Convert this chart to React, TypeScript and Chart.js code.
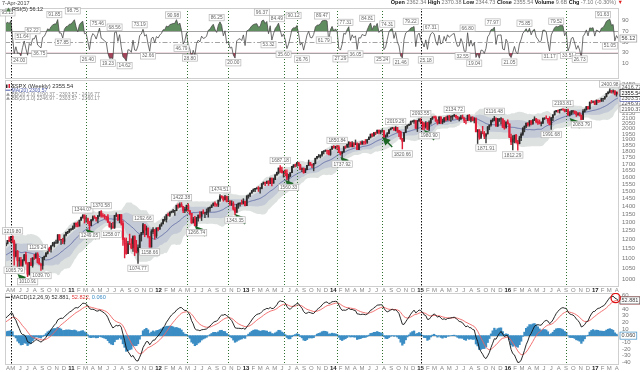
import React, { useEffect, useRef } from "react";
import { Chart, registerables } from "chart.js";

Chart.register(...registerables);

// ---------------- DATA ----------------
const FIRST_WEEK_UTC = Date.UTC(2010, 3, 2); // first visible weekly bar (Fri)

// weekly closes before the visible window (Aug-2009 .. Mar-2010), for indicator warm-up
const WARMUP_CLOSE = [1010.5, 1004.1, 1026.1, 1028.9, 1016.4, 1042.7, 1068.3, 1044.4, 1025.2, 1071.5, 1087.7, 1079.6, 1036.2, 1069.3, 1093.5, 1091.4, 1091.5, 1106.0, 1106.4, 1102.5, 1126.5, 1115.1, 1145.0, 1136.0, 1091.8, 1073.9, 1066.2, 1075.5, 1109.2, 1104.5, 1138.7, 1150.0, 1159.9, 1166.6];

const CLOSE = [
  // 2010
  1178.1, 1194.4, 1192.1, 1217.3, 1186.7, 1110.9, 1135.7, 1087.7, 1089.4, 1064.9, 1091.6, 1117.5, 1076.8, 1022.6, 1078.0, 1064.9, 1102.7, 1101.6, 1121.6, 1079.3, 1071.7, 1064.6, 1104.5, 1109.6, 1125.6, 1148.7, 1146.2, 1165.2, 1176.2, 1183.1, 1183.3, 1225.9, 1199.2, 1199.7, 1189.4, 1224.7, 1240.4, 1243.9, 1256.8, 1257.6,
  // 2011
  1271.5, 1293.2, 1283.4, 1276.3, 1310.9, 1329.2, 1343.0, 1319.9, 1321.2, 1304.3, 1279.2, 1313.8, 1332.4, 1328.2, 1319.7, 1337.4, 1363.6, 1340.2, 1337.8, 1333.3, 1331.1, 1300.2, 1271.0, 1271.5, 1268.5, 1339.7, 1344.0, 1316.1, 1345.0, 1292.3, 1199.4, 1178.8, 1123.5, 1176.8, 1174.0, 1154.2, 1216.0, 1136.4, 1131.4, 1155.5, 1224.6, 1238.3, 1285.1, 1253.2, 1263.9, 1216.0, 1158.7, 1244.3, 1255.2, 1219.7, 1265.3, 1257.6,
  // 2012
  1277.8, 1289.1, 1315.4, 1316.3, 1344.9, 1342.6, 1361.2, 1365.7, 1369.6, 1370.9, 1404.2, 1397.1, 1408.5, 1398.1, 1370.3, 1378.5, 1403.4, 1369.1, 1353.4, 1295.2, 1317.8, 1278.0, 1325.7, 1342.8, 1335.0, 1362.2, 1354.7, 1356.8, 1362.7, 1386.0, 1391.0, 1405.9, 1418.2, 1411.1, 1406.6, 1437.9, 1465.8, 1460.2, 1440.7, 1460.9, 1428.6, 1433.2, 1411.9, 1414.2, 1379.9, 1359.9, 1409.2, 1416.2, 1418.1, 1413.6, 1430.2, 1402.4,
  // 2013
  1466.5, 1472.1, 1486.0, 1503.0, 1513.2, 1517.9, 1519.8, 1515.6, 1518.2, 1551.2, 1560.7, 1556.9, 1569.2, 1553.3, 1588.9, 1555.3, 1582.2, 1614.4, 1633.7, 1667.5, 1649.6, 1630.7, 1643.4, 1626.7, 1592.4, 1606.3, 1631.9, 1680.2, 1692.1, 1691.7, 1709.7, 1691.4, 1655.8, 1663.5, 1633.0, 1655.2, 1688.0, 1709.9, 1691.8, 1690.5, 1703.2, 1744.5, 1759.8, 1761.6, 1770.6, 1798.2, 1804.8, 1805.8, 1805.1, 1775.3, 1818.3, 1841.4,
  // 2014
  1831.4, 1842.4, 1838.7, 1790.3, 1782.6, 1797.0, 1838.6, 1836.3, 1859.5, 1878.0, 1841.1, 1866.5, 1857.6, 1865.1, 1815.7, 1864.9, 1863.4, 1881.1, 1878.5, 1877.9, 1900.5, 1923.6, 1949.4, 1936.2, 1962.9, 1961.0, 1985.4, 1967.6, 1978.2, 1978.3, 1925.2, 1931.6, 1955.1, 1988.4, 2003.4, 2007.7, 1985.5, 2010.4, 1982.9, 1967.9, 1906.1, 1886.8, 1964.6, 2018.1, 2031.9, 2039.8, 2063.5, 2067.6, 2075.4, 2002.3, 2070.7, 2088.8,
  // 2015
  2058.2, 2044.8, 2019.4, 2051.8, 1995.0, 2055.5, 2097.0, 2110.3, 2104.5, 2071.3, 2053.4, 2108.1, 2061.0, 2067.0, 2102.1, 2081.2, 2117.7, 2108.3, 2116.1, 2122.7, 2126.1, 2107.4, 2092.8, 2094.1, 2110.0, 2101.5, 2076.8, 2076.6, 2126.6, 2079.7, 2103.8, 2077.6, 2091.5, 1970.9, 1988.9, 1921.2, 1961.1, 1958.0, 1931.3, 1951.4, 2014.9, 2033.1, 2075.2, 2079.4, 2099.2, 2023.0, 2089.2, 2090.1, 2091.7, 2012.4, 2005.6, 2061.0, 2043.9,
  // 2016
  1922.0, 1880.3, 1906.9, 1940.2, 1880.1, 1864.8, 1917.8, 1948.1, 2000.0, 2022.2, 2049.6, 2035.9, 2072.8, 2047.6, 2080.7, 2091.6, 2065.3, 2057.1, 2046.6, 2052.3, 2099.1, 2099.1, 2096.1, 2071.2, 2037.4, 2103.0, 2129.9, 2161.7, 2175.0, 2173.6, 2182.9, 2184.1, 2183.9, 2169.0, 2180.0, 2127.8, 2139.2, 2164.7, 2168.3, 2153.7, 2133.0, 2141.2, 2126.4, 2085.2, 2164.5, 2181.9, 2213.4, 2191.9, 2259.5, 2258.1, 2263.8, 2238.8,
  // 2017
  2277.0, 2274.6, 2271.3, 2294.7, 2297.4, 2316.1, 2351.2, 2367.3, 2383.1, 2372.6, 2378.3, 2344.0, 2362.7, 2355.5,
];

const HIGH = [
  1181, 1195, 1214, 1218, 1220, 1197, 1174, 1141, 1104, 1105, 1093, 1120, 1131, 1078, 1080, 1100, 1103, 1120, 1128, 1129, 1100, 1074, 1105, 1112, 1131, 1149, 1158, 1167, 1184, 1187, 1197, 1227, 1227, 1200, 1207, 1226, 1241, 1246, 1259, 1263,
  1278, 1294, 1296, 1302, 1312, 1331, 1344, 1337, 1333, 1324, 1302, 1315, 1338, 1339, 1328, 1341, 1364, 1371, 1352, 1346, 1334, 1346, 1301, 1292, 1299, 1341, 1356, 1344, 1347, 1346, 1307, 1209, 1208, 1190, 1230, 1204, 1220, 1221, 1195, 1171, 1225, 1240, 1293, 1285, 1277, 1266, 1208, 1255, 1267, 1256, 1266, 1269,
  1285, 1296, 1316, 1333, 1345, 1355, 1362, 1368, 1379, 1372, 1406, 1414, 1420, 1422, 1398, 1391, 1406, 1416, 1372, 1353, 1328, 1335, 1329, 1343, 1364, 1363, 1375, 1360, 1381, 1390, 1395, 1407, 1420, 1427, 1414, 1438, 1475, 1467, 1460, 1471, 1465, 1464, 1434, 1434, 1428, 1391, 1410, 1420, 1420, 1439, 1448, 1432,
  1467, 1473, 1486, 1503, 1514, 1518, 1524, 1531, 1526, 1552, 1564, 1563, 1570, 1573, 1594, 1594, 1592, 1618, 1636, 1668, 1687, 1674, 1644, 1654, 1654, 1620, 1632, 1681, 1693, 1698, 1710, 1709, 1697, 1670, 1669, 1664, 1689, 1730, 1711, 1698, 1704, 1745, 1760, 1775, 1771, 1799, 1805, 1813, 1811, 1809, 1819, 1843,
  1850, 1844, 1851, 1850, 1799, 1798, 1841, 1847, 1867, 1883, 1879, 1884, 1876, 1898, 1872, 1865, 1884, 1891, 1885, 1902, 1901, 1924, 1950, 1955, 1964, 1968, 1986, 1980, 1983, 1991, 1984, 1943, 1964, 1992, 2006, 2012, 2008, 2019, 2009, 1985, 1977, 1912, 1965, 2019, 2034, 2042, 2071, 2075, 2079, 2076, 2077, 2093,
  2094, 2065, 2057, 2065, 2058, 2072, 2097, 2111, 2119, 2118, 2083, 2114, 2115, 2089, 2103, 2111, 2121, 2126, 2120, 2124, 2135, 2128, 2117, 2109, 2127, 2129, 2100, 2082, 2128, 2133, 2111, 2113, 2103, 2102, 1990, 1990, 1976, 2021, 1974, 1952, 2020, 2034, 2080, 2094, 2116, 2094, 2097, 2095, 2104, 2093, 2076, 2064, 2082,
  2039, 1950, 1936, 1940, 1947, 1895, 1931, 1962, 2009, 2024, 2053, 2056, 2075, 2075, 2084, 2112, 2096, 2084, 2081, 2064, 2100, 2103, 2120, 2097, 2113, 2103, 2132, 2169, 2176, 2177, 2183, 2188, 2194, 2187, 2185, 2187, 2163, 2175, 2175, 2169, 2164, 2152, 2154, 2131, 2182, 2189, 2214, 2214, 2260, 2278, 2274, 2273,
  2283, 2280, 2279, 2301, 2300, 2319, 2352, 2368, 2401, 2385, 2390, 2382, 2370, 2370,
];

const LOW = [
  1165, 1175, 1188, 1181, 1181, 1066, 1107, 1056, 1040, 1060, 1043, 1087, 1071, 1011, 1018, 1063, 1056, 1094, 1100, 1076, 1070, 1040, 1046, 1092, 1108, 1122, 1136, 1132, 1164, 1159, 1177, 1178, 1195, 1173, 1177, 1175, 1219, 1232, 1239, 1251,
  1257, 1262, 1271, 1271, 1276, 1311, 1324, 1294, 1299, 1291, 1249, 1280, 1307, 1322, 1306, 1295, 1334, 1330, 1330, 1319, 1312, 1296, 1270, 1258, 1262, 1262, 1333, 1309, 1295, 1282, 1168, 1102, 1121, 1125, 1172, 1149, 1136, 1114, 1127, 1075, 1157, 1191, 1230, 1215, 1226, 1209, 1158, 1159, 1232, 1202, 1210, 1248,
  1258, 1275, 1290, 1306, 1300, 1337, 1335, 1356, 1357, 1340, 1369, 1386, 1391, 1393, 1357, 1358, 1367, 1367, 1343, 1292, 1295, 1277, 1267, 1306, 1324, 1309, 1350, 1326, 1345, 1330, 1365, 1389, 1400, 1398, 1398, 1396, 1430, 1451, 1431, 1438, 1426, 1428, 1403, 1403, 1373, 1343, 1359, 1385, 1399, 1411, 1416, 1401,
  1402, 1451, 1461, 1485, 1496, 1495, 1512, 1497, 1485, 1514, 1547, 1538, 1551, 1539, 1552, 1536, 1555, 1581, 1614, 1623, 1635, 1630, 1599, 1608, 1578, 1560, 1604, 1632, 1671, 1676, 1681, 1684, 1654, 1640, 1628, 1633, 1655, 1687, 1687, 1671, 1646, 1700, 1740, 1752, 1747, 1761, 1780, 1800, 1779, 1772, 1768, 1818,
  1828, 1822, 1815, 1790, 1770, 1738, 1791, 1825, 1834, 1834, 1839, 1839, 1839, 1857, 1815, 1814, 1859, 1860, 1859, 1862, 1868, 1901, 1915, 1925, 1930, 1944, 1956, 1952, 1952, 1967, 1916, 1904, 1929, 1953, 1988, 1998, 1985, 1978, 1965, 1926, 1906, 1821, 1885, 1962, 2002, 2027, 2034, 2062, 2049, 2002, 1973, 2069,
  2047, 1992, 1988, 2004, 1989, 1981, 2041, 2085, 2098, 2067, 2040, 2045, 2046, 2045, 2057, 2073, 2080, 2077, 2068, 2085, 2112, 2099, 2086, 2072, 2084, 2097, 2056, 2044, 2080, 2077, 2063, 2073, 2053, 1970, 1867, 1904, 1910, 1953, 1909, 1872, 1952, 1990, 2022, 2062, 2072, 2022, 2020, 2067, 2042, 2010, 1994, 2006, 2043,
  1918, 1857, 1812, 1872, 1872, 1810, 1865, 1891, 1937, 1970, 2008, 2023, 2022, 2034, 2039, 2074, 2053, 2039, 2043, 2025, 2047, 2085, 2094, 2051, 2033, 1992, 2075, 2129, 2159, 2156, 2148, 2177, 2175, 2160, 2162, 2127, 2119, 2133, 2145, 2142, 2115, 2124, 2119, 2084, 2098, 2157, 2178, 2187, 2187, 2248, 2253, 2234,
  2234, 2255, 2258, 2266, 2267, 2287, 2313, 2347, 2358, 2355, 2354, 2336, 2322, 2345,
];

// annotations on the price panel (bar index, value, 1 = label above)
const PRICE_NOTE_IDX = [4, 5, 13, 19, 21, 46, 50, 57, 63, 79, 82, 86, 105, 114, 128, 137, 164, 169, 198, 201, 233, 237, 248, 253, 268, 287, 292, 303, 326, 333, 344, 361];
const PRICE_NOTE_VAL = [1219.80, 1065.79, 1010.91, 1129.24, 1039.70, 1344.07, 1249.05, 1370.58, 1258.07, 1074.77, 1292.66, 1158.66, 1422.38, 1266.74, 1474.51, 1343.35, 1687.18, 1560.33, 1850.84, 1737.92, 2019.26, 1820.66, 2093.55, 1980.90, 2134.72, 1871.91, 2116.48, 1812.29, 1991.68, 2193.81, 2083.79, 2400.98];
const PRICE_NOTE_UP = [1, 0, 0, 1, 0, 1, 0, 1, 0, 0, 1, 0, 1, 0, 1, 0, 1, 0, 1, 0, 1, 0, 1, 0, 1, 0, 1, 0, 0, 1, 0, 1];

// green arrows (bar index, price of the arrow tip)
const ARROW_IDX = [7, 48, 113, 137, 167, 200, 225, 250, 337];
const ARROW_VAL = [1023, 1259, 1277, 1349, 1578, 1755, 1924, 1987, 2100];

// RSI annotations
const RSI_NOTE_IDX = [1, 8, 10, 16, 20, 29, 34, 40, 49, 55, 61, 65, 71, 80, 85, 100, 105, 110, 126, 136, 153, 157, 162, 166, 172, 177, 189, 190, 200, 203, 209, 216, 225, 228, 236, 242, 251, 254, 273, 276, 280, 291, 301, 310, 325, 329, 336, 343, 357, 361];
const RSI_NOTE_VAL = [95.13, 24.00, 51.64, 62.22, 36.75, 91.85, 57.85, 98.75, 26.40, 75.46, 19.23, 68.56, 14.62, 73.19, 32.66, 90.98, 46.79, 28.80, 86.25, 20.00, 96.37, 53.32, 84.49, 35.60, 90.12, 26.76, 89.47, 61.79, 27.29, 77.31, 36.05, 84.81, 25.24, 74.31, 21.46, 79.22, 25.18, 67.31, 32.55, 66.80, 19.04, 77.97, 21.05, 75.85, 31.17, 79.52, 33.51, 26.73, 91.63, 51.05];
const RSI_NOTE_UP = [1, 0, 1, 1, 0, 1, 0, 1, 0, 1, 0, 1, 0, 1, 0, 1, 0, 0, 1, 0, 1, 0, 1, 0, 1, 0, 1, 0, 0, 1, 0, 1, 0, 1, 0, 1, 0, 1, 0, 1, 0, 1, 0, 1, 0, 1, 0, 0, 1, 0];

// vertical dotted markers (bar index) and which are black
const VLINE_IDX = [3, 48, 108, 133, 166, 174, 198, 225, 248, 335];
const VLINE_BLACK = [3, 248];

// axis ticks
const RSI_TICKS = [90, 70, 50, 30, 10];
const RSI_LEVELS = [70, 50, 30];
const PRICE_TICKS = [2450, 2400, 2350, 2300, 2250, 2200, 2150, 2100, 2050, 2000, 1950, 1900, 1850, 1800, 1750, 1700, 1650, 1600, 1550, 1500, 1450, 1400, 1350, 1300, 1250, 1200, 1150, 1100, 1050, 1000];
const MACD_TICKS = [60, 50, 40, 30, 20, 10, -10, -20, -30, -40];
const MONTH_LETTERS = ["J", "F", "M", "A", "M", "J", "J", "A", "S", "O", "N", "D"];

// right-edge value boxes
const PRICE_BOX_VAL = [2416.77, 2246.97, 2190.37, 2360.17, 2303.57, 2355.54];
const PRICE_BOX_COLOR = ["#9a9a9a", "#9a9a9a", "#9a9a9a", "#9a9a9a", "#4a58a8", "#111111"];
const MACD_BOX_VAL = [52.822, 52.881, 0.060];
const MACD_BOX_COLOR = ["#e23b3b", "#555555", "#3b8dc4"];
const RSI_BOX_VAL = [56.12];

// legend / header texts
const HEADER_DATE = "7-Apr-2017";
const HEADER_PARTS: [string, number][] = [["Open ", 1], ["2362.34 ", 0], ["High ", 1], ["2370.38 ", 0], ["Low ", 1], ["2344.73 ", 0], ["Close ", 1], ["2355.54 ", 0], ["Volume ", 1], ["9.6B ", 0], ["Chg ", 1], ["-7.10 (-0.30%) ", 0]];
const RSI_LEGEND = "RSI(5) 56.12";
const PRICE_LEGEND = ["$SPX (Weekly) 2355.54", "MA(20) 2303.57", "BB(20,2.0) 2190.37 - 2303.57 - 2416.77", "BB(20,1.0) 2246.97 - 2303.57 - 2360.17"];
const MACD_LEGEND: [string, string][] = [["MACD(12,26,9) 52.881, ", "#333"], ["52.822, ", "#e23b3b"], ["0.060", "#3b8dc4"]];

// ---------------- DERIVED ----------------
const FONT = "'Liberation Sans', Arial, sans-serif";
const f = (size: number, bold = false) => `${bold ? "bold " : ""}${size}px ${FONT}`;

const N = CLOSE.length;
const LABELS = CLOSE.map((_, i) => String(i));
const W = WARMUP_CLOSE.length;
const ALL = [...WARMUP_CLOSE, ...CLOSE];
const OPEN = CLOSE.map((_, i) => ALL[W + i - 1]);
const HI = CLOSE.map((c, i) => Math.max(HIGH[i] ?? c, c, OPEN[i]));
const LO = CLOSE.map((c, i) => Math.min(LOW[i] ?? c, c, OPEN[i]));
const IS_UP = CLOSE.map((c, i) => c >= OPEN[i]);

const MA20: number[] = [], U2: number[] = [], L2: number[] = [], U1: number[] = [], L1: number[] = [];
for (let i = 0; i < N; i++) {
  const j = W + i;
  let s = 0;
  for (let k = j - 19; k <= j; k++) s += ALL[k];
  const m = s / 20;
  let v = 0;
  for (let k = j - 19; k <= j; k++) v += (ALL[k] - m) ** 2;
  const sd = Math.sqrt(v / 20);
  MA20.push(m); U2.push(m + 2 * sd); L2.push(m - 2 * sd); U1.push(m + sd); L1.push(m - sd);
}

function rsiCalc(arr: number[], n: number) {
  const out: (number | null)[] = arr.map(() => null);
  let ag = 0, al = 0;
  for (let i = 1; i <= n; i++) { const d = arr[i] - arr[i - 1]; if (d > 0) ag += d; else al -= d; }
  ag /= n; al /= n;
  out[n] = al === 0 ? 100 : 100 - 100 / (1 + ag / al);
  for (let i = n + 1; i < arr.length; i++) {
    const d = arr[i] - arr[i - 1];
    ag = (ag * (n - 1) + Math.max(d, 0)) / n;
    al = (al * (n - 1) + Math.max(-d, 0)) / n;
    out[i] = al === 0 ? 100 : 100 - 100 / (1 + ag / al);
  }
  return out;
}
function emaCalc(arr: number[], n: number) {
  const k = 2 / (n + 1);
  const out: number[] = [];
  let e = arr[0];
  arr.forEach((x, i) => { e = i === 0 ? x : x * k + e * (1 - k); out.push(e); });
  return out;
}
const RSI = rsiCalc(ALL, 5).slice(W);
const E12 = emaCalc(ALL, 12), E26 = emaCalc(ALL, 26);
const MACD_ALL = E12.map((v, i) => v - E26[i]);
const SIG_ALL = emaCalc(MACD_ALL, 9);
const MACD = MACD_ALL.slice(W);
const SIGNAL = SIG_ALL.slice(W);
const HIST = MACD.map((v, i) => v - SIGNAL[i]);

// month label positions
const MONTH_MARKS: { pos: number; text: string; bold: boolean }[] = [];
{
  let prev = -1;
  for (let i = 0; i < N; i++) {
    const d = new Date(FIRST_WEEK_UTC + i * 7 * 86400000);
    const m = d.getUTCMonth();
    if (m !== prev) {
      const pos = i - (d.getUTCDate() - 1) / 7;
      const isJan = m === 0;
      MONTH_MARKS.push({ pos, text: isJan ? String(d.getUTCFullYear() % 100).padStart(2, "0") : MONTH_LETTERS[m], bold: isJan });
      prev = m;
    }
  }
}

// ---------------- DRAW HELPERS ----------------
function drawBox(ctx: any, text: string, cx: number, cy: number, border: string, color: string, size: number, leftAlign = false) {
  ctx.font = f(size);
  const tw = ctx.measureText(text).width;
  const w = tw + 3, h = size + 1.6;
  const x = leftAlign ? cx : cx - w / 2;
  ctx.fillStyle = "#fff";
  ctx.fillRect(x, cy - h / 2, w, h);
  ctx.strokeStyle = border;
  ctx.lineWidth = 0.7;
  ctx.strokeRect(x, cy - h / 2, w, h);
  ctx.fillStyle = color;
  ctx.textAlign = "left";
  ctx.textBaseline = "middle";
  ctx.fillText(text, x + 1.5, cy + 0.3);
}
function drawFrame(chart: any) {
  const { ctx, chartArea: ca } = chart;
  ctx.save();
  ctx.strokeStyle = "#cfcfcf";
  ctx.lineWidth = 1;
  ctx.setLineDash([]);
  ctx.strokeRect(Math.round(ca.left) + 0.5, Math.round(ca.top) + 0.5, Math.round(ca.right - ca.left) - 1, Math.round(ca.bottom - ca.top) - 1);
  ctx.restore();
}
function drawVLines(chart: any) {
  const { ctx, chartArea: ca, scales } = chart;
  ctx.save();
  ctx.lineWidth = 1;
  VLINE_IDX.forEach((idx) => {
    const px = Math.round(scales.x.getPixelForValue(idx)) + 0.5;
    const black = VLINE_BLACK.includes(idx);
    ctx.strokeStyle = black ? "#111" : "#2f6f2f";
    ctx.setLineDash(black ? [1.5, 1.5] : [1, 2]);
    ctx.beginPath();
    ctx.moveTo(px, ca.top);
    ctx.lineTo(px, ca.bottom);
    ctx.stroke();
  });
  ctx.restore();
}
function drawRightTicks(chart: any, ticks: number[]) {
  const { ctx, chartArea: ca, scales } = chart;
  ctx.save();
  ctx.font = f(6);
  ctx.fillStyle = "#777";
  ctx.textAlign = "left";
  ctx.textBaseline = "middle";
  ticks.forEach((v) => ctx.fillText(String(v), ca.right + 3, scales.y.getPixelForValue(v)));
  ctx.restore();
}
function drawMonths(chart: any) {
  const { ctx, chartArea: ca, scales } = chart;
  ctx.save();
  ctx.textAlign = "center";
  ctx.textBaseline = "middle";
  MONTH_MARKS.forEach((m) => {
    const px = scales.x.getPixelForValue(m.pos);
    if (px < ca.left) return;
    ctx.font = f(6, m.bold);
    ctx.fillStyle = m.bold ? "#222" : "#888";
    ctx.fillText(m.text, Math.max(px, ca.left + 3), ca.bottom + 3.8);
  });
  ctx.restore();
}
function drawNotes(chart: any, idxs: number[], vals: number[], ups: number[], off: number) {
  const { ctx, scales } = chart;
  ctx.save();
  idxs.forEach((idx, k) => {
    const px = scales.x.getPixelForValue(idx);
    const py = scales.y.getPixelForValue(vals[k]);
    drawBox(ctx, vals[k].toFixed(2), px, ups[k] ? py - off : py + off, "#b5b5b5", "#666", 4.8);
  });
  ctx.restore();
}

// ---------------- PLUGINS ----------------
const rsiPlugin = {
  id: "rsiOverlay",
  beforeDatasetsDraw(chart: any) {
    const { ctx, chartArea: ca, scales } = chart;
    ctx.save();
    ctx.strokeStyle = "#9a9a9a";
    ctx.lineWidth = 0.9;
    RSI_LEVELS.forEach((v) => {
      const py = Math.round(scales.y.getPixelForValue(v)) + 0.5;
      ctx.setLineDash(v === 50 ? [5, 2, 1.5, 2] : []);
      ctx.beginPath();
      ctx.moveTo(ca.left, py);
      ctx.lineTo(ca.right, py);
      ctx.stroke();
    });
    ctx.restore();
  },
  afterDatasetsDraw(chart: any) {
    const { ctx, chartArea: ca, scales } = chart;
    drawVLines(chart);
    drawFrame(chart);
    drawNotes(chart, RSI_NOTE_IDX, RSI_NOTE_VAL, RSI_NOTE_UP, 4.6);
    drawRightTicks(chart, RSI_TICKS);
    ctx.save();
    RSI_BOX_VAL.forEach((v) => drawBox(ctx, v.toFixed(2), ca.right + 1, scales.y.getPixelForValue(v), "#999", "#444", 5.5, true));
    // header
    ctx.font = f(5.5);
    ctx.fillStyle = "#444";
    ctx.textAlign = "left";
    ctx.textBaseline = "middle";
    ctx.fillText(HEADER_DATE, 2, 3.2);
    // legend icon + text
    ctx.fillStyle = "#4f7f4f";
    ctx.beginPath();
    ctx.moveTo(6, 11.5); ctx.lineTo(8.5, 7.5); ctx.lineTo(11, 11.5); ctx.closePath(); ctx.fill();
    ctx.fillStyle = "#333";
    ctx.font = f(5.5);
    ctx.fillText(RSI_LEGEND, 12, 9.6);
    // top-right header
    let total = 0;
    HEADER_PARTS.forEach(([t, b]) => { ctx.font = f(5.5, !!b); total += ctx.measureText(t).width; });
    ctx.font = f(5.5);
    total += ctx.measureText("▼").width;
    let x = 623 - total;
    HEADER_PARTS.forEach(([t, b]) => {
      ctx.font = f(5.5, !!b);
      ctx.fillStyle = b ? "#111" : "#777";
      ctx.fillText(t, x, 2.6);
      x += ctx.measureText(t).width;
    });
    ctx.font = f(5.5);
    ctx.fillStyle = "#e02020";
    ctx.fillText("▼", x, 2.6);
    ctx.restore();
  },
};

const pricePlugin = {
  id: "priceOverlay",
  afterDatasetsDraw(chart: any) {
    const { ctx, chartArea: ca, scales } = chart;
    drawVLines(chart);
    drawFrame(chart);
    // arrows (pointing up-left at the tip)
    ctx.save();
    ARROW_IDX.forEach((idx, k) => {
      const tx = scales.x.getPixelForValue(idx);
      const ty = scales.y.getPixelForValue(ARROW_VAL[k]);
      ctx.fillStyle = "#1a6624";
      ctx.beginPath();
      ctx.moveTo(tx, ty);
      ctx.lineTo(tx + 8.5, ty + 3);
      ctx.lineTo(tx + 3, ty + 8.5);
      ctx.closePath();
      ctx.fill();
      ctx.strokeStyle = "#1a6624";
      ctx.lineWidth = 1.4;
      ctx.beginPath();
      ctx.moveTo(tx + 4, ty + 4);
      ctx.lineTo(tx + 10, ty + 10);
      ctx.stroke();
    });
    ctx.restore();
    drawNotes(chart, PRICE_NOTE_IDX, PRICE_NOTE_VAL, PRICE_NOTE_UP, 5);
    drawRightTicks(chart, PRICE_TICKS);
    ctx.save();
    PRICE_BOX_VAL.forEach((v, k) => drawBox(ctx, v.toFixed(2), ca.right + 1, scales.y.getPixelForValue(v), PRICE_BOX_COLOR[k], k === 5 ? "#111" : "#555", 5.5, true));
    // legend
    ctx.textAlign = "left";
    ctx.textBaseline = "middle";
    ctx.fillStyle = "#222";
    ctx.fillRect(6, 4.5, 1.5, 3.5);
    ctx.fillStyle = "#e0203a";
    ctx.fillRect(8.5, 4, 1.5, 4);
    ctx.font = f(5.8);
    ctx.fillStyle = "#333";
    ctx.fillText(PRICE_LEGEND[0], 11.5, 6.3);
    ctx.strokeStyle = "#4a58a8";
    ctx.lineWidth = 1;
    ctx.beginPath(); ctx.moveTo(5.5, 10.2); ctx.lineTo(10.5, 10.2); ctx.stroke();
    ctx.font = f(5);
    ctx.fillStyle = "#4a58a8";
    ctx.fillText(PRICE_LEGEND[1], 11.5, 10.2);
    [2, 3].forEach((k, j) => {
      const yy = 14.2 + j * 4;
      ctx.fillStyle = "#999";
      ctx.beginPath(); ctx.moveTo(6, yy + 1.6); ctx.lineTo(8, yy - 1.6); ctx.lineTo(10, yy + 1.6); ctx.closePath(); ctx.fill();
      ctx.fillStyle = "#888";
      ctx.fillText(PRICE_LEGEND[k], 11.5, yy);
    });
    ctx.restore();
    drawMonths(chart);
  },
};

const macdPlugin = {
  id: "macdOverlay",
  beforeDatasetsDraw(chart: any) {
    const { ctx, chartArea: ca, scales } = chart;
    ctx.save();
    ctx.strokeStyle = "#d0d0d0";
    ctx.lineWidth = 0.8;
    const py = Math.round(scales.y.getPixelForValue(0)) + 0.5;
    ctx.beginPath(); ctx.moveTo(ca.left, py); ctx.lineTo(ca.right, py); ctx.stroke();
    ctx.restore();
  },
  afterDatasetsDraw(chart: any) {
    const { ctx, chartArea: ca, scales } = chart;
    drawVLines(chart);
    drawFrame(chart);
    drawRightTicks(chart, MACD_TICKS);
    ctx.save();
    MACD_BOX_VAL.forEach((v, k) => drawBox(ctx, v.toFixed(3), ca.right + 1, scales.y.getPixelForValue(v), MACD_BOX_COLOR[k], "#444", 5.5, true));
    // red circle marker at the latest crossover
    ctx.strokeStyle = "#e01010";
    ctx.lineWidth = 1.3;
    ctx.beginPath();
    ctx.arc(scales.x.getPixelForValue(N - 2.5), scales.y.getPixelForValue(MACD[N - 3]), 4.6, 0, Math.PI * 2);
    ctx.stroke();
    // legend
    ctx.textAlign = "left";
    ctx.textBaseline = "middle";
    ctx.strokeStyle = "#333";
    ctx.lineWidth = 1;
    ctx.beginPath(); ctx.moveTo(5.5, 4.3); ctx.lineTo(10, 4.3); ctx.stroke();
    ctx.font = f(5.6);
    let x = 11;
    MACD_LEGEND.forEach(([t, c]) => { ctx.fillStyle = c; ctx.fillText(t, x, 4.3); x += ctx.measureText(t).width; });
    ctx.restore();
    drawMonths(chart);
  },
};

// ---------------- CONFIGS ----------------
const baseOptions = (padBottom: number, padTop: number, y: any) => ({
  animation: false,
  responsive: false,
  maintainAspectRatio: false,
  events: [],
  layout: { padding: { left: 5, right: 21, top: padTop, bottom: padBottom }, autoPadding: false },
  plugins: { legend: { display: false }, tooltip: { enabled: false } },
  scales: { x: { type: "category", offset: true, display: false }, y: { ...y, display: false } },
});

function rsiConfig(): any {
  return {
    type: "line",
    data: {
      labels: LABELS,
      datasets: [
        { data: RSI, borderColor: "#4a4a4a", borderWidth: 0.8, pointRadius: 0, tension: 0, fill: { target: { value: 70 }, above: "#5f8d5f", below: "rgba(0,0,0,0)" } },
        { data: RSI, borderColor: "rgba(0,0,0,0)", borderWidth: 0, pointRadius: 0, tension: 0, fill: { target: { value: 30 }, above: "rgba(0,0,0,0)", below: "#a5455c" } },
      ],
    },
    options: baseOptions(1, 8, { type: "linear", min: -18.5, max: 112.4 }),
    plugins: [rsiPlugin],
  };
}

function priceConfig(): any {
  const wicks = CLOSE.map((_, i) => [LO[i], HI[i]]);
  const upBodies = CLOSE.map((c, i) => (IS_UP[i] ? [OPEN[i], c] : null));
  const downBodies = CLOSE.map((c, i) => (!IS_UP[i] ? [c, OPEN[i]] : null));
  const wickColors = CLOSE.map((_, i) => (IS_UP[i] ? "#3a3a3a" : "#e0203a"));
  const band = { type: "line", borderColor: "rgba(0,0,0,0)", borderWidth: 0, pointRadius: 0, tension: 0.2 };
  return {
    type: "bar",
    data: {
      labels: LABELS,
      datasets: [
        { ...band, data: U2, fill: 1, backgroundColor: "#dde2e0", order: 10 },
        { ...band, data: L2, fill: false, order: 10 },
        { ...band, data: U1, fill: 3, backgroundColor: "#c4cad6", order: 9 },
        { ...band, data: L1, fill: false, order: 9 },
        { type: "line", data: MA20, borderColor: "#5a67a3", borderWidth: 0.8, pointRadius: 0, fill: false, tension: 0.2, order: 8 },
        { type: "bar", data: wicks, backgroundColor: wickColors, barThickness: 0.8, grouped: false, order: 3 },
        { type: "bar", data: upBodies, backgroundColor: "#2a2a2a", barThickness: 1.1, grouped: false, order: 2 },
        { type: "bar", data: downBodies, backgroundColor: "#e0203a", barThickness: 1.5, grouped: false, order: 1 },
      ],
    },
    options: baseOptions(6, 0, { type: "logarithmic", min: 963.8, max: 2502 }),
    plugins: [pricePlugin],
  };
}

function macdConfig(): any {
  return {
    type: "bar",
    data: {
      labels: LABELS,
      datasets: [
        { type: "line", data: MACD, borderColor: "#111", borderWidth: 0.9, pointRadius: 0, fill: false, tension: 0, order: 1 },
        { type: "line", data: SIGNAL, borderColor: "#f06262", borderWidth: 0.9, pointRadius: 0, fill: false, tension: 0, order: 2 },
        { type: "bar", data: HIST, backgroundColor: "#3b8dc4", barPercentage: 1, categoryPercentage: 1, grouped: false, order: 3 },
      ],
    },
    options: baseOptions(7, 0, { type: "linear", min: -44, max: 64 }),
    plugins: [macdPlugin],
  };
}

// ---------------- COMPONENT ----------------
export default function App() {
  const r1 = useRef<HTMLCanvasElement>(null);
  const r2 = useRef<HTMLCanvasElement>(null);
  const r3 = useRef<HTMLCanvasElement>(null);
  useEffect(() => {
    const charts = [
      new Chart(r1.current as HTMLCanvasElement, rsiConfig()),
      new Chart(r2.current as HTMLCanvasElement, priceConfig()),
      new Chart(r3.current as HTMLCanvasElement, macdConfig()),
    ];
    return () => charts.forEach((c) => c.destroy());
  }, []);
  const cs = (top: number, h: number): React.CSSProperties => ({ position: "absolute", left: 0, top, width: 640, height: h, display: "block" });
  return (
    <div style={{ position: "absolute", left: 0, top: 0, width: 640, height: 372, background: "#fff", overflow: "hidden" }}>
      <canvas ref={r1} width={640} height={80} style={cs(0, 80)} />
      <canvas ref={r2} width={640} height={213} style={cs(80, 213)} />
      <canvas ref={r3} width={640} height={79} style={cs(293, 79)} />
    </div>
  );
}
